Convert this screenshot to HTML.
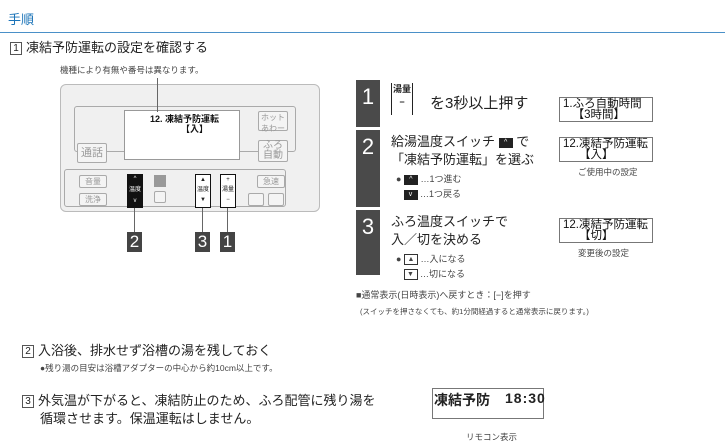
<!DOCTYPE html>
<html><head><meta charset="utf-8"><style>
*{margin:0;padding:0;box-sizing:border-box}
body{width:725px;height:448px;background:#fff;position:relative;overflow:hidden;font-family:"Liberation Sans","Noto Sans CJK JP",sans-serif;color:#222}
.a{position:absolute;white-space:nowrap}
.num{display:inline-block;width:12px;height:13px;border:1px solid #555;font-size:10px;line-height:11px;text-align:center;margin-right:4px;vertical-align:1px}
.bar{position:absolute;left:356px;width:24px;background:#4a4a4a;color:#fff;font-size:22px;text-align:center;line-height:34px}
.lcd{position:absolute;left:559px;width:94px;height:25px;border:1px solid #777;font-size:11.5px;line-height:11px;padding:1px 3px;color:#111}
.lbl{position:absolute;width:15px;height:20px;background:#444;color:#fff;font-size:17px;line-height:20px;text-align:center}
.btn{position:absolute;border:1px solid #aaa;background:#f4f4f4;font-size:8px;color:#999;text-align:center;border-radius:2px}
.sm{font-size:9px;color:#444}
.blk{display:inline-block;width:14px;height:10px;background:#222;color:#fff;font-size:7px;line-height:10px;text-align:center;vertical-align:middle}
.wbx{display:inline-block;width:14px;height:11px;border:1px solid #333;font-size:7px;line-height:9px;text-align:center;vertical-align:middle}
</style></head><body>
<div class="a" style="left:8px;top:9px;font-size:13px;color:#1a73b8">手順</div>
<div class="a" style="left:0;top:32px;width:725px;height:1px;background:#4a90c8"></div>
<div class="a" style="left:10px;top:37px;font-size:13px"><span class="num">1</span>凍結予防運転の設定を確認する</div>
<div class="a sm" style="left:60px;top:64px;font-size:8.5px">機種により有無や番号は異なります。</div>
<!-- remote -->
<div class="a" style="left:60px;top:84px;width:260px;height:128px;background:#f0f0f0;border:1px solid #bbb;border-radius:6px"></div>
<div class="a" style="left:74px;top:106px;width:222px;height:46px;border:1px solid #aaa;border-radius:3px"></div>
<div class="a" style="left:124px;top:110px;width:116px;height:50px;background:#fff;border:1px solid #999"></div>
<div class="a" style="left:150px;top:112px;font-size:9px;font-weight:bold;color:#111">12. 凍結予防運転</div>
<div class="a" style="left:181px;top:122px;font-size:9px;font-weight:bold;color:#111">【入】</div>
<div class="a" style="left:157px;top:78px;width:1px;height:34px;background:#666"></div>
<div class="btn" style="left:77px;top:143px;width:30px;height:20px;font-size:11px;line-height:18px">通話</div>
<div class="btn" style="left:258px;top:111px;width:30px;height:20px">ホット<br>あわー</div>
<div class="btn" style="left:258px;top:140px;width:30px;height:22px;font-size:10px;line-height:10px">ふろ<br>自動</div>
<div class="a" style="left:64px;top:169px;width:222px;height:38px;border:1px solid #aaa;border-radius:3px"></div>
<div class="btn" style="left:79px;top:175px;width:28px;height:13px">音量</div>
<div class="btn" style="left:79px;top:193px;width:28px;height:13px">洗浄</div>
<div class="a" style="left:127px;top:174px;width:16px;height:34px;background:#111;color:#fff;font-size:6px;text-align:center;line-height:11px">^<br>温度<br>v</div>
<div class="a" style="left:154px;top:175px;width:12px;height:12px;background:#999"></div>
<div class="btn" style="left:154px;top:191px;width:12px;height:12px"></div>
<div class="a" style="left:195px;top:174px;width:16px;height:34px;background:#fff;border:1px solid #111;font-size:6px;text-align:center;line-height:10px">▲<br>温度<br>▼</div>
<div class="a" style="left:220px;top:174px;width:16px;height:34px;background:#fff;border:1px solid #111;font-size:6px;text-align:center;line-height:10px">+<br>湯量<br>−</div>
<div class="btn" style="left:257px;top:175px;width:28px;height:13px">急速</div>
<div class="btn" style="left:248px;top:193px;width:16px;height:13px"></div>
<div class="btn" style="left:268px;top:193px;width:16px;height:13px"></div>
<div class="a" style="left:134px;top:208px;width:1px;height:24px;background:#666"></div>
<div class="a" style="left:202px;top:208px;width:1px;height:24px;background:#666"></div>
<div class="a" style="left:227px;top:208px;width:1px;height:24px;background:#666"></div>
<div class="lbl" style="left:127px;top:232px">2</div>
<div class="lbl" style="left:195px;top:232px">3</div>
<div class="lbl" style="left:220px;top:232px">1</div>
<!-- steps -->
<div class="bar" style="top:80px;height:47px">1</div>
<div class="bar" style="top:130px;height:77px">2</div>
<div class="bar" style="top:210px;height:65px">3</div>
<div class="a" style="left:391px;top:83px;width:22px;height:32px;border-left:1px solid #222;border-right:1px solid #222;font-size:9px;font-weight:bold;text-align:center;line-height:13px">湯量<br>−</div>
<div class="a" style="left:430px;top:92px;font-size:15px">を3秒以上押す</div>
<div class="a" style="left:391px;top:133px;font-size:13px;line-height:18px">給湯温度スイッチ <span class="blk">^</span> で<br>「凍結予防運転」を選ぶ</div>
<div class="a sm" style="left:396px;top:172px;line-height:15px">● <span class="blk">^</span> …1つ進む<br>&nbsp;&nbsp;&nbsp;<span class="blk">v</span> …1つ戻る</div>
<div class="a" style="left:391px;top:213px;font-size:13px;line-height:18px">ふろ温度スイッチで<br>入／切を決める</div>
<div class="a sm" style="left:396px;top:252px;line-height:15px">● <span class="wbx">▲</span> …入になる<br>&nbsp;&nbsp;&nbsp;<span class="wbx">▼</span> …切になる</div>
<div class="lcd" style="top:97px">1.ふろ自動時間<br>&nbsp;&nbsp;&nbsp;【3時間】</div>
<div class="lcd" style="top:137px">12.凍結予防運転<br>&nbsp;&nbsp;&nbsp;&nbsp;&nbsp;【入】</div>
<div class="a sm" style="left:578px;top:166px;font-size:8.5px">ご使用中の設定</div>
<div class="lcd" style="top:218px">12.凍結予防運転<br>&nbsp;&nbsp;&nbsp;&nbsp;&nbsp;【切】</div>
<div class="a sm" style="left:578px;top:247px;font-size:8.5px">変更後の設定</div>
<div class="a sm" style="left:356px;top:288px;font-size:9px">■通常表示(日時表示)へ戻すとき：[−]を押す</div>
<div class="a sm" style="left:360px;top:306px;font-size:7.5px">(スイッチを押さなくても、約1分間経過すると通常表示に戻ります。)</div>
<!-- section 2,3 -->
<div class="a" style="left:22px;top:340px;font-size:13px"><span class="num">2</span>入浴後、排水せず浴槽の湯を残しておく</div>
<div class="a sm" style="left:40px;top:362px;font-size:8.5px">●残り湯の目安は浴槽アダプターの中心から約10cm以上です。</div>
<div class="a" style="left:22px;top:392px;font-size:13px;line-height:18px"><span class="num">3</span>外気温が下がると、凍結防止のため、ふろ配管に残り湯を<br>&nbsp;&nbsp;&nbsp;&nbsp;&nbsp;循環させます。保温運転はしません。</div>
<div class="a" style="left:432px;top:388px;width:112px;height:31px;border:1px solid #777"></div>
<div class="a" style="left:434px;top:390px;font-size:14px;font-weight:bold">凍結予防</div>
<div class="a" style="left:505px;top:390px;font-size:14px;font-weight:bold;letter-spacing:1px">18:30</div>
<div class="a sm" style="left:466px;top:431px;font-size:8.5px">リモコン表示</div>
</body></html>
